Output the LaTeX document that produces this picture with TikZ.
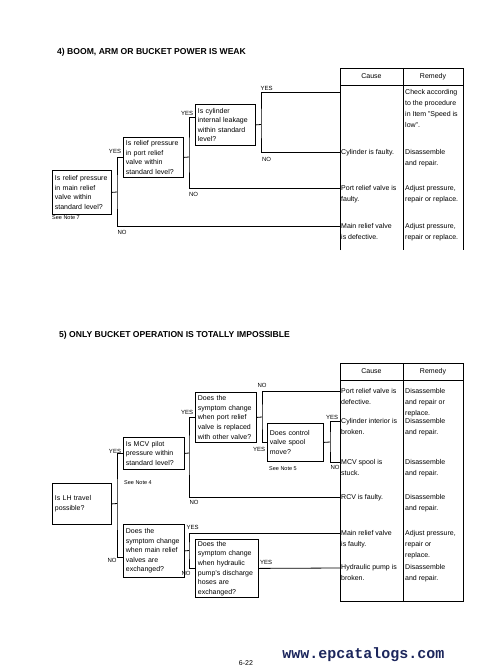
\documentclass[tikz,border=0pt]{standalone}
\usepackage{fontspec}
\setmainfont{Liberation Sans}
\newfontfamily\wmfont{Liberation Mono}
\usetikzlibrary{positioning, calc}

\definecolor{wmblue}{RGB}{28,38,92}
\hyphenpenalty=10000
\exhyphenpenalty=10000

\tikzset{
  % Troubleshooting trees
  qbox/.style     = { draw, line width=0.8pt, anchor=north west, align=left,
                      font=\fontsize{7}{9.6}\selectfont,
                      inner xsep=2.5pt, inner ysep=0pt },
  link/.style     = { line width=0.8pt },
  yn/.style       = { font=\fontsize{6}{6}\selectfont, inner sep=0pt },
  note/.style     = { font=\fontsize{5.5}{6}\selectfont, anchor=west, inner sep=0pt },
  heading/.style  = { font=\fontsize{8.6}{10}\selectfont\bfseries, anchor=west, inner sep=0pt },
  % Cause / remedy tables
  tabline/.style  = { line width=0.8pt },
  tabhead/.style  = { font=\fontsize{7}{8}\selectfont, inner sep=0pt },
  celltext/.style = { font=\fontsize{7}{11}\selectfont,
                      anchor=north west, align=left, inner sep=0pt }
}

\begin{document}
\begin{tikzpicture}[x=1pt, y=-1pt]

  \useasboundingbox (0,0) rectangle (497,671);

  % 4) boom, arm or bucket power is weak
  \node[heading] (titleA) at (57,52) {4) BOOM, ARM OR BUCKET POWER IS WEAK};

  \draw[tabline] (340,250) -- (340,68) -- (463,68) -- (463,250);
  \draw[tabline] (340,85) -- (463,85);
  \draw[tabline] (403,68) -- (403,250);
  \node[tabhead] (causeA) at (371.5,76.5) {Cause};
  \node[tabhead] (remedyA) at (433,76.5) {Remedy};

  \node[celltext] (remA1) at (405,89) {Check according\\to the procedure\\in Item "Speed is\\low".};
  \node[celltext] (causeA2) at (341,149) {Cylinder is faulty.};
  \node[celltext] (remA2) at (405,149) {Disassemble\\and repair.};
  \node[celltext] (causeA3) at (341,185) {Port relief valve is\\faulty.};
  \node[celltext] (remA3) at (405,185) {Adjust pressure,\\repair or replace.};
  \node[celltext] (causeA4) at (341,223) {Main relief valve\\is defective.};
  \node[celltext] (remA4) at (405,223) {Adjust pressure,\\repair or replace.};

  \node[qbox, text width=54pt, minimum height=44pt] (qa) at (52,170) {Is relief pressure\\in main relief\\valve within\\standard level?};
  \node[qbox, text width=55pt, minimum height=40pt] (qb) at (123,137) {Is relief pressure\\in port relief\\valve within\\standard level?};
  \node[qbox, text width=55pt, minimum height=41pt] (qc) at (195,104) {Is cylinder\\internal leakage\\within standard\\level?};
  \node[note] (note7) at (52,218) {See Note 7};

  \coordinate (sa) at (117,192);
  \coordinate (sb) at (189,157);
  \coordinate (sc) at (261,124.5);
  \coordinate (ra1) at (340,92);
  \coordinate (ra2) at (340,152);
  \coordinate (ra3) at (340,188);
  \coordinate (ra4) at (340,226);

  \draw[link] (qa.east) -- (sa);
  \draw[link] (qb.west) -| (sa) |- (ra4);
  \draw[link] (qb.east) -- (sb);
  \draw[link] ([yshift=7pt]qc.west) -| (sb) |- (ra3);
  \draw[link] (qc.east) -- (sc);
  \draw[link] (ra1) -| (sc) |- (ra2);

  \node[yn] (ya) at (115,151) {YES};
  \node[yn] (na) at (122,232) {NO};
  \node[yn] (yb) at (187,113) {YES};
  \node[yn] (nb) at (193.5,194) {NO};
  \node[yn] (yc) at (266.5,88) {YES};
  \node[yn] (nc) at (266.5,159) {NO};

  % 5) only bucket operation is totally impossible
  \node[heading] (titleB) at (59,335) {5) ONLY BUCKET OPERATION IS TOTALLY IMPOSSIBLE};

  \draw[tabline] (340,363) rectangle (463,601);
  \draw[tabline] (340,380) -- (463,380);
  \draw[tabline] (403,363) -- (403,601);
  \node[tabhead] (causeB) at (371.5,371.5) {Cause};
  \node[tabhead] (remedyB) at (433,371.5) {Remedy};

  \node[celltext] (causeB1) at (341,388) {Port relief valve is\\defective.};
  \node[celltext] (remB1) at (405,388) {Disassemble\\and repair or\\replace.};
  \node[celltext] (causeB2) at (341,418) {Cylinder interior is\\broken.};
  \node[celltext] (remB2) at (405,418) {Disassemble\\and repair.};
  \node[celltext] (causeB3) at (341,459) {MCV spool is\\stuck.};
  \node[celltext] (remB3) at (405,459) {Disassemble\\and repair.};
  \node[celltext] (causeB4) at (341,494) {RCV is faulty.};
  \node[celltext] (remB4) at (405,494) {Disassemble\\and repair.};
  \node[celltext] (causeB5) at (341,530) {Main relief valve\\is faulty.};
  \node[celltext] (remB5) at (405,530) {Adjust pressure,\\repair or\\replace.};
  \node[celltext] (causeB6) at (341,564) {Hydraulic pump is\\broken.};
  \node[celltext] (remB6) at (405,564) {Disassemble\\and repair.};

  \node[qbox, text width=54pt, minimum height=41pt] (qf) at (52,483) {Is LH travel\\possible?};
  \node[qbox, text width=56pt, minimum height=32pt] (qe) at (123,437) {Is MCV pilot\\pressure within\\standard level?};
  \node[qbox, text width=56pt, minimum height=50pt] (qd) at (195,392) {Does the\\symptom change\\when port relief\\valve is replaced\\with other valve?};
  \node[qbox, text width=51pt, minimum height=38pt] (qk) at (267,423) {Does control\\valve spool\\move?};
  \node[qbox, text width=56pt, minimum height=53pt] (qg) at (123,524) {Does the\\symptom change\\when main relief\\valves are\\exchanged?};
  \node[qbox, text width=58pt, minimum height=58pt] (qh) at (195,539) {Does the\\symptom change\\when hydraulic\\pump's discharge\\hoses are\\exchanged?};
  \node[note] (note4) at (124,483) {See Note 4};
  \node[note] (note5) at (269,469) {See Note 5};

  \coordinate (sf) at (117,503.5);
  \coordinate (se) at (189,453);
  \coordinate (sd) at (262,417);
  \coordinate (sk) at (330,442);
  \coordinate (sg) at (189,550.5);
  \coordinate (rb1) at (340,391);
  \coordinate (rb2) at (340,421);
  \coordinate (rb3) at (340,462);
  \coordinate (rb4) at (340,497);
  \coordinate (rb5) at (340,533);
  \coordinate (rb6) at (340,568);

  \draw[link] (qf.east) -- (sf);
  \draw[link] (qe.west) -| (sf) |- ([yshift=-6pt]qg.west);
  \draw[link] (qe.east) -- (se);
  \draw[link] (qd.west) -| (se) |- (rb4);
  \draw[link] (qd.east) -- (sd);
  \draw[link] (rb1) -| (sd) |- (qk.west);
  \draw[link] (qk.east) -- (sk);
  \draw[link] (rb2) -| (sk) |- (rb3);
  \draw[link] (qg.east) -- (sg);
  \draw[link] (rb5) -| (sg) |- (qh.west);
  \draw[link] (qh.east) -- (rb6);

  \node[yn] (yf) at (115,451) {YES};
  \node[yn] (nf) at (112,560) {NO};
  \node[yn] (ye) at (187,412) {YES};
  \node[yn] (ne) at (194,502) {NO};
  \node[yn] (nd) at (262,385) {NO};
  \node[yn] (yd) at (259,449) {YES};
  \node[yn] (yk) at (332,417) {YES};
  \node[yn] (nk) at (335,467) {NO};
  \node[yn] (yg) at (192.5,527) {YES};
  \node[yn] (ng) at (186,573) {NO};
  \node[yn] (yh) at (266,562) {YES};

  % page foot
  \node[font=\fontsize{7}{8}\selectfont, inner sep=0pt] (pageno) at (246,663) {6-22};
  \node[font=\wmfont\bfseries\fontsize{15}{16}\selectfont, text=wmblue, inner sep=0pt] (wmark) at (363.5,655) {www.epcatalogs.com};

\end{tikzpicture}
\end{document}
